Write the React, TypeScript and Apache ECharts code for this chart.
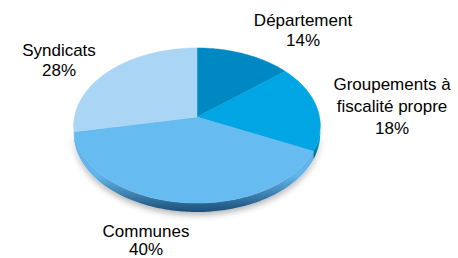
import React, { useEffect, useRef } from "react";
import * as echarts from "echarts";

// ---- data ----
const categories = ["Département", "Groupements à\nfiscalité propre", "Communes", "Syndicats"];
const shares = [14, 18, 40, 28];

// ---- styles / layout ----
const faceColors = ["#0088C2", "#00A6E3", "#66BBF0", "#AAD5F5"];
const sideColors = [
  ["#0088C2", "#004A6C"],
  ["#00A2DE", "#005F8A"],
  ["#62B4EA", "#1B4F78"],
  ["#A6D2F3", "#6E9CC0"],
];
const labelPos = [
  [303, 30],
  [392, 106],
  [146, 240],
  [59, 60],
];
const labelLineHeights = [20, 22, 18, 20];

// tilted pie geometry (perspective projection of a circle)
const APEX_X = 197;
const APEX_Y = 117;
const RX = 122.5;
const RY = 76.6;
const PERSP = 0.1096;
const DEPTH = 8;

function project(thetaDeg: number): [number, number, number] {
  const t = (thetaDeg * Math.PI) / 180;
  const s = Math.sin(t);
  const c = Math.cos(t);
  const d = 1 + PERSP * c;
  return [APEX_X + (RX * s) / d, APEX_Y - (RY * c) / d, d];
}

function arc(a: number, b: number): [number, number, number][] {
  const n = Math.max(2, Math.ceil((b - a) / 1));
  const pts: [number, number, number][] = [];
  for (let k = 0; k <= n; k++) pts.push(project(a + ((b - a) * k) / n));
  return pts;
}

export default function App() {
  const ref = useRef<HTMLDivElement>(null);
  useEffect(() => {
    if (!ref.current) return;
    const chart = echarts.init(ref.current, undefined, { renderer: "svg" });
    const total = shares.reduce((s, v) => s + v, 0);
    chart.setOption({
      animation: false,
      series: [
        {
          type: "custom",
          coordinateSystem: "none",
          silent: true,
          data: shares.map((v, i) => ({ value: v, name: categories[i] })),
          renderItem: (params: any, api: any) => {
            const i = params.dataIndex;
            let before = 0;
            for (let k = 0; k < i; k++) before += shares[k];
            const start = (before / total) * 360;
            const end = start + (api.value(0) / total) * 360;
            const children: any[] = [];
            // side (visible front half)
            const a = Math.max(start, 90);
            const b = Math.min(end, 270);
            if (a < b) {
              const top = arc(a, b);
              const bottom = top.map((p) => [p[0], p[1] + DEPTH / p[2]]).reverse();
              const pts = top.map((p) => [p[0], p[1]]).concat(bottom);
              children.push({
                type: "polygon",
                z2: 1,
                shape: { points: pts },
                style: {
                  fill: new echarts.graphic.LinearGradient(0, 0, 0, 1, [
                    { offset: 0, color: sideColors[i][0] },
                    { offset: 0.55, color: sideColors[i][0] },
                    { offset: 1, color: sideColors[i][1] },
                  ]),
                  shadowBlur: 6,
                  shadowOffsetY: 3,
                  shadowColor: "rgba(0,0,0,0.3)",
                },
              });
            }
            // top face
            const face = [[APEX_X, APEX_Y]].concat(arc(start, end).map((p) => [p[0], p[1]]));
            children.push({
              type: "polygon",
              z2: 10,
              shape: { points: face },
              style: { fill: faceColors[i], stroke: faceColors[i], lineWidth: 0.5 },
            });
            // label
            children.push({
              type: "text",
              z2: 20,
              style: {
                text: `${categories[i]}\n${api.value(0)}%`,
                x: labelPos[i][0],
                y: labelPos[i][1],
                align: "center",
                verticalAlign: "middle",
                fontSize: 17,
                lineHeight: labelLineHeights[i],
                fontFamily: "Liberation Sans, Arial, sans-serif",
                fill: "#000",
              },
            });
            return { type: "group", children };
          },
        },
      ],
    });
    return () => chart.dispose();
  }, []);
  return (
    <div
      ref={ref}
      style={{ position: "fixed", left: 0, top: 0, width: 458, height: 258, background: "#fff" }}
    />
  );
}
